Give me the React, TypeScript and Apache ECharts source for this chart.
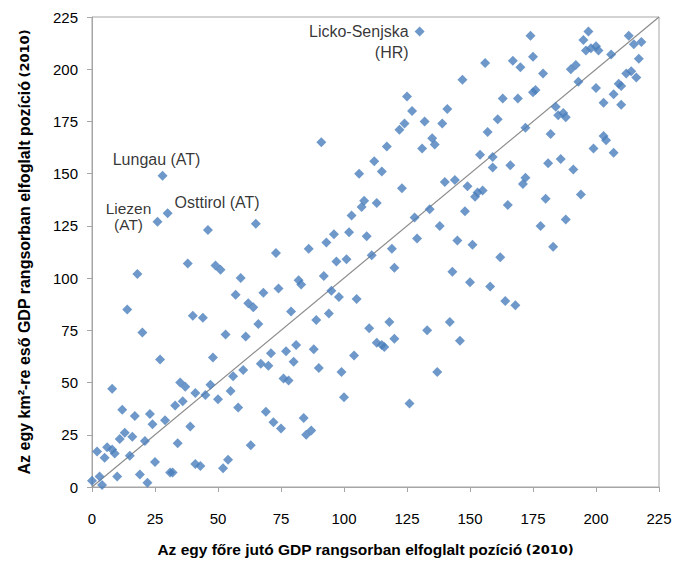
import React, { useEffect, useRef } from "react";
import * as echarts from "echarts";

// Rank by GDP per capita (x) and rank by GDP per km² (y), 2010
const xRank = [
  147, 125, 127, 141, 132, 139, 124, 122, 91, 117, 135, 136, 131, 112, 106, 115,
  174, 197, 195, 213, 215, 218, 196, 198, 200, 201, 206, 217, 156, 167, 175, 170,
  179, 190, 192, 193, 212, 214, 216, 209, 210, 200, 207, 203, 210, 176, 175, 163,
  169, 184, 185, 187, 188, 161, 157, 172, 182, 203, 204, 199, 207, 154, 159, 159,
  166, 181, 186, 191,
  46, 65, 38, 49, 51, 59, 18, 57, 62, 64, 68, 14, 40, 44, 20, 53, 61, 66,
  140, 144, 123, 108, 107, 113, 103, 128, 134, 138, 96, 102, 109, 129, 145, 73,
  86, 93, 97, 101, 111, 119, 120, 143, 74, 82, 83, 92, 95, 98, 105, 79, 89, 94,
  110, 118, 133, 142,
  172, 171, 149, 152, 153, 155, 148, 165, 180, 194, 178, 188, 151, 183, 162, 150,
  158, 164, 168,
  27, 48, 67, 70, 71, 60, 56, 8, 35, 37, 47, 55, 41, 45, 36, 50, 33, 58, 12, 17,
  23, 24, 29, 39, 69, 72, 11, 13, 16, 21, 2, 6, 8, 9, 5, 15, 34, 25, 41, 43, 54,
  52, 63, 31, 32, 19, 10, 22, 0, 3, 4,
  146, 120, 77, 81, 88, 80, 90, 104, 113, 115, 116, 99, 76, 78, 137, 100, 126, 75,
  84, 85, 87,
];
const yRank = [
  195, 187, 180, 181, 175, 174, 174, 171, 165, 163, 167, 164, 162, 156, 150, 151,
  216, 218, 214, 216, 212, 213, 209, 210, 211, 209, 207, 205, 203, 204, 206, 201,
  198, 200, 202, 194, 198, 199, 196, 193, 192, 191, 188, 184, 183, 190, 189, 186,
  186, 182, 178, 179, 177, 176, 170, 172, 169, 168, 166, 162, 160, 159, 158, 153,
  154, 155, 157, 152,
  123, 126, 107, 106, 104, 100, 102, 92, 88, 86, 93, 85, 82, 81, 74, 73, 72, 78,
  146, 147, 143, 137, 134, 136, 130, 129, 133, 125, 121, 122, 120, 119, 118, 112,
  114, 117, 108, 109, 111, 114, 105, 103, 95, 99, 97, 101, 94, 91, 90, 84, 80, 83,
  76, 79, 75, 79,
  148, 145, 144, 139, 141, 142, 132, 135, 138, 140, 125, 128, 116, 115, 110, 98,
  96, 89, 87,
  61, 62, 59, 58, 64, 56, 53, 47, 50, 48, 49, 46, 45, 44, 41, 42, 39, 38, 37, 34,
  35, 30, 32, 29, 36, 31, 23, 26, 24, 22, 17, 19, 18, 16, 14, 15, 21, 12, 11, 10,
  13, 9, 20, 7, 7, 6, 5, 2, 3, 5, 1,
  70, 71, 65, 68, 66, 60, 57, 63, 69, 68, 67, 55, 52, 51, 55, 43, 40, 28, 33, 25,
  27,
];

// Named regions
const annotNames = ["Licko-Senjska\n(HR)", "Lungau (AT)", "Liezen\n(AT)", "Osttirol (AT)"];
const annotX = [130, 28, 26, 30];
const annotY = [218, 149, 127, 131];

const axisTicks = [0, 25, 50, 75, 100, 125, 150, 175, 200, 225];
const diagonal = [0, 225];

const xTitle = "Az egy főre jutó GDP rangsorban elfoglalt pozíció";
const yTitle = "Az egy km²-re eső GDP rangsorban elfoglalt pozíció";
const yearTag = "(2010)";

const BLUE = "#4a7ebb";
const GRAY = "#a6a6a6";
const FONT = "'Liberation Sans', Arial, sans-serif";

export default function App() {
  const ref = useRef<HTMLDivElement>(null);

  useEffect(() => {
    if (!ref.current) return;
    document.body.style.margin = "0";
    const chart = echarts.init(ref.current, undefined, { renderer: "svg" });

    const labelStyles: any[] = [
      { position: [-6, -6], align: "right", verticalAlign: "top", lineHeight: 21, fontSize: 16 },
      { position: [-1, -11], align: "center", verticalAlign: "middle", lineHeight: 16, fontSize: 16 },
      { position: [-24, 0], align: "center", verticalAlign: "middle", lineHeight: 16, fontSize: 15.5 },
      { position: [12, -6], align: "left", verticalAlign: "middle", lineHeight: 16, fontSize: 16 },
    ];

    const mainData: any[] = xRank.map((x, i) => [x, yRank[i]]);
    const annotData: any[] = annotNames.map((n, i) => ({
      value: [annotX[i], annotY[i]],
      label: {
        show: true,
        formatter: n,
        color: "#000",
        fontFamily: FONT,
        ...labelStyles[i],
      },
    }));

    const min = axisTicks[0];
    const max = axisTicks[axisTicks.length - 1];
    const interval = axisTicks[1] - axisTicks[0];

    const axisCommon = {
      type: "value",
      min,
      max,
      interval,
      splitLine: { show: false },
      axisLine: { show: true, lineStyle: { color: GRAY, width: 1 } },
      axisTick: { show: true, inside: false, length: 5, lineStyle: { color: GRAY } },
      axisLabel: { color: "#000", fontSize: 15, fontFamily: FONT },
      nameLocation: "middle",
    };

    chart.setOption({
      animation: false,
      backgroundColor: "#fff",
      grid: {
        left: 92,
        right: 20,
        top: 17,
        bottom: 75,
        outerBoundsMode: "none",
        show: true,
        borderColor: GRAY,
        borderWidth: 1,
      },
      xAxis: {
        ...axisCommon,
        axisLabel: { ...axisCommon.axisLabel, margin: 24 },
        name: `{a|${xTitle}} {b|${yearTag}}`,
        nameGap: 54,
        nameTextStyle: {
          padding: [0, 20, 0, 0],
          rich: {
            a: { fontSize: 15.5, fontFamily: FONT, color: "#000", fontWeight: "bold" },
            b: { fontSize: 13, fontFamily: "'DejaVu Sans', sans-serif", fontWeight: "bold", color: "#000" },
          },
        },
      },
      yAxis: {
        ...axisCommon,
        axisLabel: { ...axisCommon.axisLabel, margin: 14 },
        name: `{a|${yTitle}} {b|${yearTag}}`,
        nameGap: 60,
        nameRotate: 90,
        nameTextStyle: {
          rich: {
            a: { fontSize: 16, fontFamily: FONT, color: "#000", fontWeight: "bold" },
            b: { fontSize: 13, fontFamily: "'DejaVu Sans', sans-serif", fontWeight: "bold", color: "#000" },
          },
        },
      },
      series: [
        {
          type: "line",
          data: [
            [diagonal[0], diagonal[0]],
            [diagonal[1], diagonal[1]],
          ],
          symbol: "none",
          lineStyle: { color: "#8c8c8c", width: 1.2 },
          z: 1,
          silent: true,
        },
        {
          type: "scatter",
          symbol: "diamond",
          symbolSize: 10,
          itemStyle: { color: BLUE },
          data: [...mainData, ...annotData],
          z: 2,
        },
      ],
    });

    return () => chart.dispose();
  }, []);

  return <div ref={ref} style={{ width: 679, height: 562 }} />;
}
